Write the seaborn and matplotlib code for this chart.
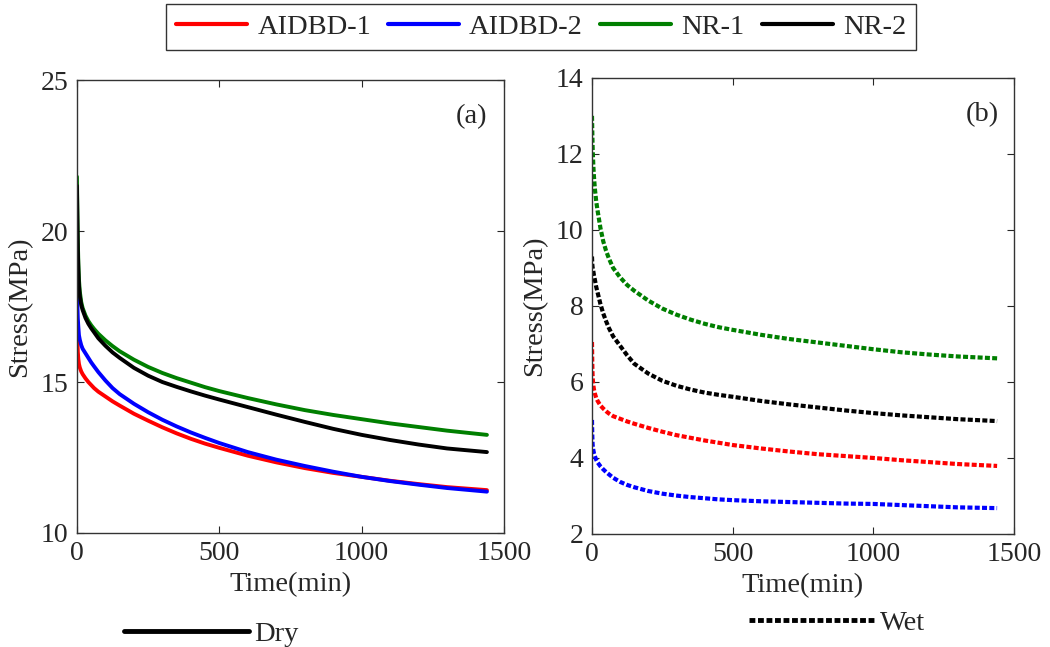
import numpy as np
import pandas as pd
import matplotlib
matplotlib.use("Agg")
import matplotlib.pyplot as plt
from matplotlib.lines import Line2D
import seaborn as sns

# time axis (min)
time = [0, 1, 2, 3, 5, 7, 10, 15, 20, 30, 40, 50, 60, 75, 100, 125, 150, 200, 250, 300,
        350, 400, 450, 500, 600, 700, 800, 900, 1000, 1100, 1200, 1300, 1440]

# (a) dry stress relaxation, MPa
dry_aidbd1 = [17.3, 16.7, 16.3, 16.0, 15.75, 15.6, 15.48, 15.35, 15.26, 15.12, 15.0, 14.9, 14.8, 14.68,
              14.52, 14.36, 14.22, 13.95, 13.72, 13.5, 13.3, 13.12, 12.96, 12.82, 12.56, 12.34, 12.15,
              11.99, 11.86, 11.73, 11.62, 11.52, 11.42]
dry_aidbd2 = [18.6, 17.9, 17.4, 17.1, 16.8, 16.55, 16.4, 16.22, 16.1, 15.95, 15.8, 15.65, 15.52, 15.33,
              15.05, 14.8, 14.6, 14.28, 14.0, 13.75, 13.53, 13.33, 13.15, 12.98, 12.68, 12.43, 12.22,
              12.03, 11.86, 11.72, 11.6, 11.49, 11.37]
dry_nr1 = [21.8, 21.0, 20.3, 19.7, 18.9, 18.4, 18.0, 17.65, 17.45, 17.2, 17.02, 16.88, 16.76, 16.6,
           16.38, 16.19, 16.02, 15.74, 15.5, 15.3, 15.13, 14.98, 14.83, 14.7, 14.47, 14.26, 14.07,
           13.91, 13.77, 13.63, 13.51, 13.39, 13.25]
dry_nr2 = [21.5, 20.7, 20.0, 19.4, 18.7, 18.2, 17.85, 17.55, 17.38, 17.12, 16.93, 16.78, 16.65, 16.45,
           16.2, 15.98, 15.8, 15.47, 15.21, 15.0, 14.84, 14.69, 14.55, 14.42, 14.17, 13.92, 13.68,
           13.45, 13.25, 13.08, 12.93, 12.8, 12.68]

# (b) wet stress relaxation, MPa
wet_aidbd1 = [7.05, 6.5, 6.2, 6.05, 5.9, 5.8, 5.7, 5.58, 5.5, 5.38, 5.3, 5.23, 5.17, 5.1,
              5.03, 4.96, 4.9, 4.79, 4.69, 4.6, 4.53, 4.46, 4.4, 4.34, 4.25, 4.17, 4.1,
              4.05, 4.0, 3.94, 3.89, 3.84, 3.79]
wet_aidbd2 = [5.0, 4.6, 4.38, 4.28, 4.2, 4.12, 4.05, 3.95, 3.88, 3.78, 3.7, 3.63, 3.57, 3.48,
              3.37, 3.29, 3.23, 3.13, 3.06, 3.01, 2.97, 2.94, 2.91, 2.89, 2.86, 2.84, 2.82,
              2.8, 2.79, 2.76, 2.73, 2.7, 2.68]
wet_nr1 = [13.0, 12.6, 12.25, 12.0, 11.65, 11.4, 11.1, 10.75, 10.5, 10.05, 9.7, 9.45, 9.25, 9.0,
           8.75, 8.55, 8.4, 8.14, 7.93, 7.77, 7.64, 7.53, 7.44, 7.37, 7.24, 7.13, 7.04,
           6.95, 6.86, 6.78, 6.72, 6.67, 6.62]
wet_nr2 = [9.3, 9.1, 9.02, 8.97, 8.9, 8.8, 8.7, 8.5, 8.35, 8.05, 7.8, 7.6, 7.42, 7.2,
           6.95, 6.7, 6.48, 6.22, 6.03, 5.9, 5.8, 5.72, 5.66, 5.61, 5.5, 5.41, 5.33,
           5.25, 5.18, 5.12, 5.07, 5.02, 4.97]

names = ["AIDBD-1", "AIDBD-2", "NR-1", "NR-2"]
colors = ["#ff0000", "#0000ff", "#007f00", "#000000"]
dotted = (0, (1.2, 0.55))

sns.set_style("ticks")
plt.rcParams["font.family"] = ["Liberation Serif", "DejaVu Serif"]
plt.rcParams["font.size"] = 20

fig = plt.figure(figsize=(10.5, 6.47), dpi=100)
ax1 = fig.add_axes([0.0733, 0.1762, 0.4067, 0.700])
ax2 = fig.add_axes([0.5638, 0.1747, 0.4019, 0.705])

dry = [dry_aidbd1, dry_aidbd2, dry_nr1, dry_nr2]
wet = [wet_aidbd1, wet_aidbd2, wet_nr1, wet_nr2]
for ys, c in zip(dry, colors):
    sns.lineplot(x=time, y=ys, color=c, lw=2.8, ax=ax1)
for ys, c in zip(wet, colors):
    sns.lineplot(x=time, y=ys, color=c, lw=3.0, ax=ax2, linestyle=dotted)

ax1.set_xlim(0, 1500)
ax1.set_ylim(10, 25)
ax1.set_xticks([0, 500, 1000, 1500])
ax1.set_yticks([10, 15, 20, 25])
ax2.set_xlim(0, 1500)
ax2.set_ylim(2, 14)
ax2.set_xticks([0, 500, 1000, 1500])
ax2.set_yticks([2, 4, 6, 8, 10, 12, 14])

for ax, tag in [(ax1, "(a)"), (ax2, "(b)")]:
    ax.tick_params(direction="in", top=True, right=True, length=5, width=0.8, labelsize=20, pad=6)
    for s in ax.spines.values():
        s.set_color("#333333")
        s.set_linewidth(1.0)
    ax.set_xlabel("Time(min)", fontsize=20.5, labelpad=4)
    ax.set_ylabel("Stress(MPa)", fontsize=20.5, labelpad=6)
    ax.text(0.925, 0.92, tag, transform=ax.transAxes, ha="center", va="center", fontsize=20.5)

handles = [Line2D([], [], color=c, lw=3) for c in colors]
top = fig.legend(handles, names, ncol=4, loc="center", bbox_to_anchor=(541 / 1050, 1 - 27 / 647),
                 frameon=True, fancybox=False, edgecolor="black", handlelength=2.5,
                 columnspacing=0.6, handletextpad=0.35, borderpad=0.35, fontsize=20.5)
top.get_frame().set_linewidth(1.0)

dry_leg = fig.legend([Line2D([], [], color="black", lw=3.5)], ["Dry"], loc="center left",
                     bbox_to_anchor=(98 / 1050, 1 - 634 / 647), frameon=False,
                     handlelength=4.4, handletextpad=0.2, fontsize=20.5)
wet_leg = fig.legend([Line2D([], [], color="black", lw=3.5, linestyle=dotted)], ["Wet"],
                     loc="center left", bbox_to_anchor=(723 / 1050, 1 - 623 / 647), frameon=False,
                     handlelength=4.4, handletextpad=0.2, fontsize=20.5)

fig.savefig("out.png", dpi=100)
